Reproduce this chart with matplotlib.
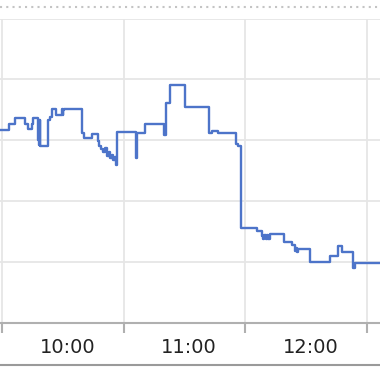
import matplotlib
matplotlib.use("Agg")
import matplotlib.pyplot as plt
from matplotlib.lines import Line2D
from matplotlib.transforms import ScaledTranslation

# minutes after 9:00 and value at each change (step series)
minutes = [29.0, 33.4, 36.4, 41.3, 42.8, 44.8, 45.3, 47.7, 48.0, 48.2, 48.5, 48.7,
           52.7, 53.7, 54.7, 56.6, 59.6, 59.9, 60.2, 60.6, 69.4, 70.4, 74.4, 77.3,
           77.8, 78.8, 79.8, 80.8, 81.8, 82.8, 83.3, 84.2, 84.7, 85.7, 86.2, 86.7,
           96.1, 96.8, 100.5, 109.9, 110.9, 112.8, 120.2, 132.1, 133.6, 136.5,
           145.4, 146.4, 147.9, 155.7, 158.2, 158.7, 159.2,
           160.2, 160.7, 161.2, 162.2, 169.1, 173.0, 174.5, 175.0, 175.5, 176.0,
           181.9, 191.8, 195.7, 197.7, 203.1, 204.1, 216.4]
values = [31.7, 32.6, 33.6, 32.6, 31.9, 32.6, 33.6, 30.1, 33.4, 29.3, 33.4, 29.0,
          33.4, 33.9, 35.2, 34.1, 35.2, 34.2, 35.0, 35.2, 31.2, 30.3, 31.1, 29.9,
          29.1, 28.6, 28.1, 28.8, 27.5, 28.1, 27.1, 27.6, 26.8, 27.3, 26.0, 31.4,
          27.1, 31.2, 32.6, 30.9, 36.2, 39.0, 35.5, 31.2, 31.6, 31.2,
          29.4, 29.0, 15.6, 15.1, 14.3, 13.8, 14.5,
          13.8, 14.5, 13.8, 14.6, 13.3, 12.8, 11.8, 12.3, 11.7, 12.2,
          10.0, 11.0, 12.7, 11.7, 9.0, 9.9, 9.9]

grid_minutes = [30, 90, 150, 210]
label_minutes = [60, 120, 180]
labels = ["10:00", "11:00", "12:00"]

fig = plt.figure(figsize=(3.8, 3.72), dpi=100)
ax = fig.add_axes([0, 49 / 372, 1, (372 - 18.5 - 49) / 372])

ax.plot(minutes, values, drawstyle="steps-post", color="#4d74c9", linewidth=1.7)

ax.set_xlim(29.0, 216.4)
ax.set_ylim(0, 50)
ax.set_yticks([10, 20, 30, 40, 50])
ax.set_xticks(grid_minutes)
ax.set_xticklabels([])
ax.set_xticks(label_minutes, minor=True)
ax.set_xticklabels(labels, minor=True)
ax.grid(True, color="#e6e6e6", linewidth=1.3)
ax.set_axisbelow(True)

for s in ["top", "left", "right"]:
    ax.spines[s].set_visible(False)
ax.spines["bottom"].set_color("#b0b0b0")
ax.spines["bottom"].set_linewidth(1.5)

ax.tick_params(axis="y", length=0, labelleft=False)
ax.tick_params(axis="x", which="major", length=7.5, width=1.5, color="#b0b0b0")
ax.tick_params(axis="x", which="minor", length=0, pad=10.5, labelsize=14, labelcolor="#222222")
for lab in ax.xaxis.get_minorticklabels():
    lab.set_transform(lab.get_transform() + ScaledTranslation(4.5 / 100, 0, fig.dpi_scale_trans))

# dotted line on top and border line at the bottom
fig.add_artist(Line2D([0, 1], [(372 - 7) / 372] * 2, color="#c4c4c4", linewidth=1.5,
                      linestyle=(0, (1, 2))))
fig.add_artist(Line2D([0, 1], [(372 - 365) / 372] * 2, color="#9a9a9a", linewidth=1.5))

fig.savefig("out.png", dpi=100)
